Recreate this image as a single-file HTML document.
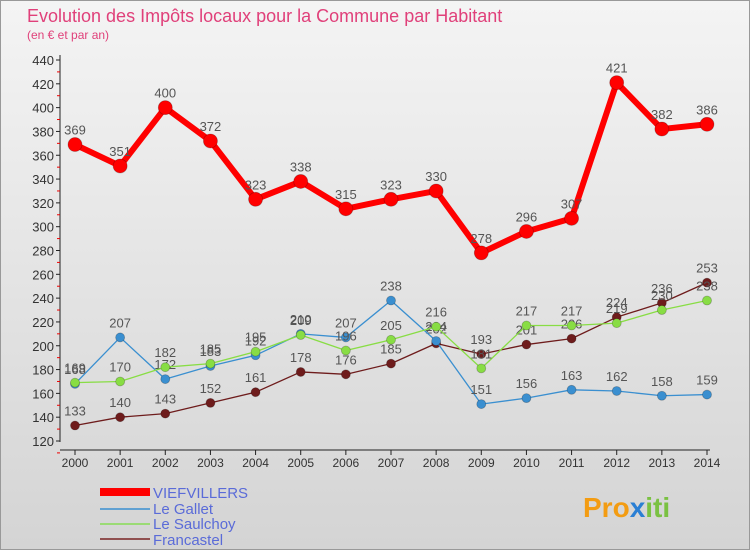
<!DOCTYPE html>
<html><head><meta charset="utf-8"><style>
body{margin:0;width:750px;height:550px;overflow:hidden;font-family:"Liberation Sans",sans-serif}
</style></head><body>
<svg id="c" width="750" height="550" xmlns="http://www.w3.org/2000/svg">
<defs><linearGradient id="bg" x1="0" y1="0" x2="0" y2="1"><stop offset="0" stop-color="#f4f4f4"/><stop offset="1" stop-color="#d4d4d4"/></linearGradient></defs>
<rect x="0.5" y="0.5" width="749" height="549" fill="url(#bg)" stroke="#999"/>
<text x="27" y="22" font-size="18" fill="#e0407a">Evolution des Impôts locaux pour la Commune par Habitant</text>
<text x="27" y="39" font-size="12" fill="#e0407a">(en € et par an)</text>
<g id="axes"></g><g id="series"></g>
<g>
<line x1="100" y1="492" x2="150" y2="492" stroke="#ff0000" stroke-width="8"/>
<text x="153" y="498" font-size="15" fill="#5a6bd8">VIEFVILLERS</text>
<line x1="100" y1="509" x2="150" y2="509" stroke="#3a8fd0" stroke-width="1.5"/>
<text x="153" y="514" font-size="15" fill="#5a6bd8">Le Gallet</text>
<line x1="100" y1="524" x2="150" y2="524" stroke="#88dd55" stroke-width="1.5"/>
<text x="153" y="529" font-size="15" fill="#5a6bd8">Le Saulchoy</text>
<line x1="100" y1="539" x2="150" y2="539" stroke="#7a2525" stroke-width="1.5"/>
<text x="153" y="545" font-size="15" fill="#5a6bd8">Francastel</text>
</g>
<text x="583" y="517" font-size="28" font-weight="bold" fill="#f39c12">Pro<tspan fill="#2a7fd4">x</tspan><tspan fill="#7ac142">iti</tspan></text>
</svg>
<script>
const years=[2000,2001,2002,2003,2004,2005,2006,2007,2008,2009,2010,2011,2012,2013,2014];
const viefvillers=[369,351,400,372,323,338,315,323,330,278,296,307,421,382,386];
const leGallet=[168,207,172,183,192,210,207,238,204,151,156,163,162,158,159];
const leSaulchoy=[169,170,182,185,195,209,196,205,216,181,217,217,219,230,238];
const francastel=[133,140,143,152,161,178,176,185,202,193,201,206,224,236,253];
const yTicks=[120,140,160,180,200,220,240,260,280,300,320,340,360,380,400,420,440];
const NS="http://www.w3.org/2000/svg";
const X=i=>75+i*(707-75)/(years.length-1);
const Y=v=>441-(v-120)*(441-60)/320;
function mk(tag,attrs,parent){const e=document.createElementNS(NS,tag);for(const k in attrs)e.setAttribute(k,attrs[k]);parent.appendChild(e);return e;}
const ax=document.getElementById('axes'),sg=document.getElementById('series');
let l=mk('line',{x1:60,y1:55,x2:60,y2:442,stroke:'#222'},ax);


l=mk('line',{x1:60,y1:450,x2:710,y2:450,stroke:'#222'},ax);


yTicks.forEach(v=>{const y=Y(v);
 mk('line',{x1:56,y1:y,x2:60,y2:y,stroke:'#222'},ax);
 mk('line',{x1:57,y1:y+11.9,x2:60,y2:y+11.9,stroke:'#e00'},ax);
 const t=mk('text',{x:54,y:y+5,'font-size':13,fill:'#333','text-anchor':'end'},ax);t.textContent=v;
 
 
});
years.forEach((yr,i)=>{const x=X(i);
 mk('line',{x1:x,y1:450,x2:x,y2:455,stroke:'#222'},ax);
 const t=mk('text',{x:x,y:467,'font-size':12,fill:'#333','text-anchor':'middle'},ax);t.textContent=yr;
 
 
});
function series(data,name,color,w,r){
 const g=mk('g',{},sg);
 
 
 const p=mk('polyline',{points:data.map((v,i)=>X(i)+','+Y(v)).join(' '),fill:'none',stroke:color,'stroke-width':w,'stroke-linejoin':'round'},g);
 
 
 data.forEach((v,i)=>{
  const c=mk('circle',{cx:X(i),cy:Y(v),r:r,fill:color,stroke:'rgba(0,0,0,0.25)','stroke-width':0.8},g);
  
  
  const t=mk('text',{x:X(i),y:Y(v)-10,'font-size':13,fill:'#555','text-anchor':'middle'},g);t.textContent=v;
  
  
 });
}
series(francastel,'francastel','#6e1c1c',1.3,4.5);
series(leGallet,'le-gallet','#3a8fd0',1.3,4.5);
series(leSaulchoy,'le-saulchoy','#88dd44',1.3,4.5);
series(viefvillers,'viefvillers','#ff0000',6,7);
</script>
</body></html>
